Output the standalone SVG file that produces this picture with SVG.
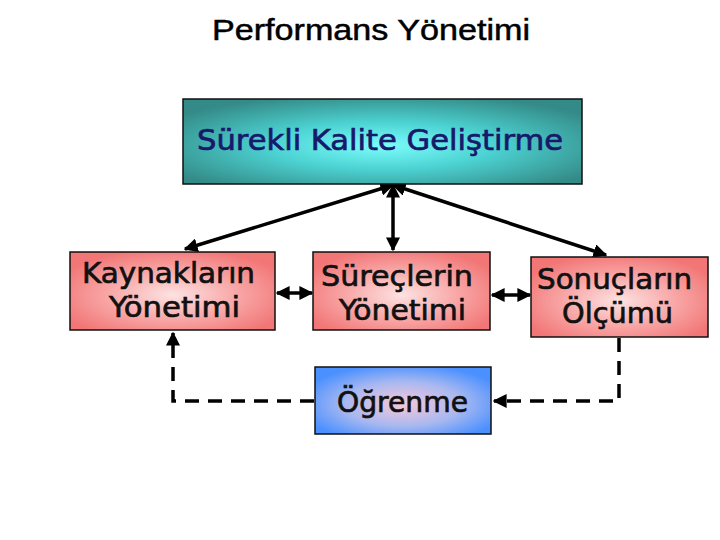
<svg xmlns="http://www.w3.org/2000/svg" width="720" height="540" viewBox="0 0 720 540">
<defs>
<radialGradient id="gTeal" cx="50%" cy="55%" r="62%">
<stop offset="0" stop-color="#7cfcfc"/>
<stop offset="0.45" stop-color="#4cd2d2"/>
<stop offset="1" stop-color="#348a86"/>
</radialGradient>
<radialGradient id="gPink" cx="50%" cy="55%" r="60%">
<stop offset="0" stop-color="#fde2e2"/>
<stop offset="0.55" stop-color="#f8a4a4"/>
<stop offset="1" stop-color="#f27676"/>
</radialGradient>
<radialGradient id="gBlue" cx="50%" cy="55%" r="60%">
<stop offset="0" stop-color="#f8c8d8"/>
<stop offset="0.55" stop-color="#a8b8f0"/>
<stop offset="1" stop-color="#4a90ff"/>
</radialGradient>
<marker id="ah" viewBox="0 0 10 10" refX="9" refY="5" markerWidth="4" markerHeight="4" orient="auto-start-reverse" markerUnits="strokeWidth">
<path d="M0,0 L10,5 L0,10 z" fill="#000"/>
</marker>
</defs>
<style>
.box{stroke:#111;stroke-width:1.5}
.lbl{font-family:"DejaVu Sans",Verdana,sans-serif;font-size:29px;fill:#111;stroke:#111;stroke-width:0.7}
.con{stroke:#000;stroke-width:3.5;fill:none}
.dash{stroke:#000;stroke-width:3.5;fill:none;stroke-dasharray:14,9}
</style>
<rect width="720" height="540" fill="#fff"/>
<text x="212" y="40" font-family="Liberation Sans,Arial,sans-serif" font-size="30" textLength="318" lengthAdjust="spacingAndGlyphs" fill="#000" stroke="#000" stroke-width="0.5">Performans Yönetimi</text>
<g id="connectors">
<line class="con" x1="393" y1="185" x2="185" y2="249" marker-start="url(#ah)" marker-end="url(#ah)"/>
<line class="con" x1="393" y1="185" x2="393" y2="250" marker-start="url(#ah)" marker-end="url(#ah)"/>
<line class="con" x1="393" y1="185" x2="606" y2="255" marker-start="url(#ah)" marker-end="url(#ah)"/>
<line class="con" x1="277" y1="293" x2="312" y2="293" marker-start="url(#ah)" marker-end="url(#ah)"/>
<line class="con" x1="492" y1="295" x2="530" y2="295" marker-start="url(#ah)" marker-end="url(#ah)"/>
<polyline class="dash" points="619,338 619,401 494,401" marker-end="url(#ah)"/>
<polyline class="dash" points="314,401 173,401 173,333" marker-end="url(#ah)"/>
</g>
<g id="surekli">
<rect class="box" x="183" y="99" width="399" height="85" fill="url(#gTeal)"/>
<text class="lbl" x="197" y="150" textLength="366" lengthAdjust="spacingAndGlyphs" style="fill:#17196b;stroke:#17196b">Sürekli Kalite Geliştirme</text>
</g>
<g id="kaynaklar">
<rect class="box" x="70" y="252" width="205" height="78" fill="url(#gPink)"/>
<text class="lbl" x="82" y="283" textLength="173" lengthAdjust="spacingAndGlyphs">Kaynakların</text>
<text class="lbl" x="109" y="317" textLength="131" lengthAdjust="spacingAndGlyphs">Yönetimi</text>
</g>
<g id="surecler">
<rect class="box" x="313" y="252" width="177" height="78" fill="url(#gPink)"/>
<text class="lbl" x="321" y="286" textLength="152" lengthAdjust="spacingAndGlyphs">Süreçlerin</text>
<text class="lbl" x="339" y="320" textLength="127" lengthAdjust="spacingAndGlyphs">Yönetimi</text>
</g>
<g id="sonuclar">
<rect class="box" x="531" y="257" width="177" height="80" fill="url(#gPink)"/>
<text class="lbl" x="537" y="289" textLength="155" lengthAdjust="spacingAndGlyphs">Sonuçların</text>
<text class="lbl" x="562" y="323" textLength="111" lengthAdjust="spacingAndGlyphs">Ölçümü</text>
</g>
<g id="ogrenme">
<rect class="box" x="315" y="367" width="176" height="67" fill="url(#gBlue)"/>
<text class="lbl" x="337" y="412" textLength="131" lengthAdjust="spacingAndGlyphs">Öğrenme</text>
</g>
</svg>
